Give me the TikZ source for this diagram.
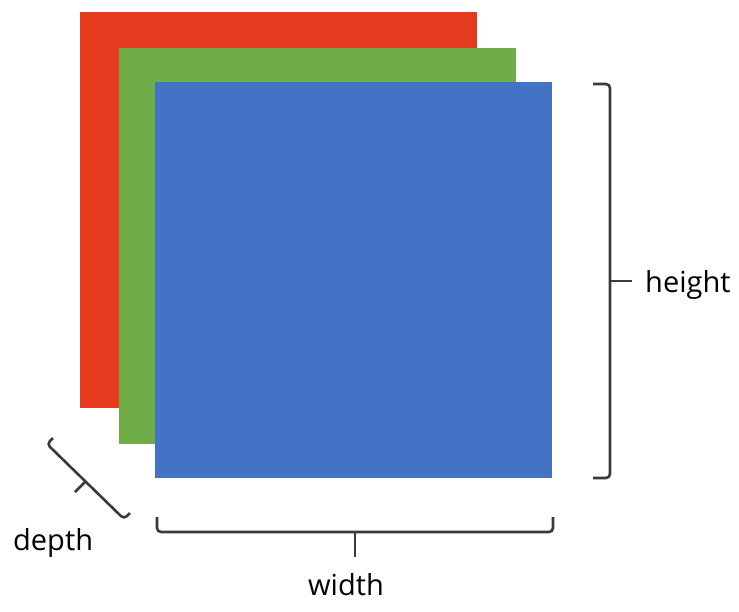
\documentclass[tikz,border=0pt]{standalone}
\usepackage{fontspec}
\setmainfont{Open Sans}
\usepackage{tikz}
\definecolor{chred}{HTML}{E53A1D}
\definecolor{chgreen}{HTML}{70AD47}
\definecolor{chblue}{HTML}{4472C4}
\definecolor{bracegray}{HTML}{3A3A3A}
\tikzstyle{brace}=[
        draw=bracegray,
        line width=2.6pt,
        rounded corners=4pt
]
\tikzstyle{label}=[
        inner sep=0pt,
        font=\fontsize{29}{34}\selectfont
]

\begin{document}
\begin{tikzpicture}[x=1pt,y=-1pt]
                        \useasboundingbox (0,0) rectangle (739,611);

                        % the three channels
                        \fill[chred] (80,12) rectangle (477,408);
                        \fill[chgreen] (119,48) rectangle (516,444);
                        \fill[chblue] (155,82) rectangle (552,478);

                        \node[label,anchor=base west] (height) at (645,292) {height};
                        \node[label,anchor=base] (width) at (346,595) {width};
                        \node[label,anchor=base west] (depth) at (13,550) {depth};

                        % height
                        \draw[brace] (593,84) -- (610,84) -- (610,478) -- (593,478);
                        \draw[brace,rounded corners=0pt] (610,281) -- (632,281);

                        % width
                        \draw[brace] (157,517) -- (157,532) -- (553,532) -- (553,517);
                        \draw[brace,rounded corners=0pt] (355,532) -- (355,557);

                        % depth
                        \draw[brace] (53,438) -- (47,444) -- (124,519) -- (130,513);
                        \draw[brace,rounded corners=0pt] (85.5,481.5) -- (75,492);

                    \end{tikzpicture}
\end{document}
